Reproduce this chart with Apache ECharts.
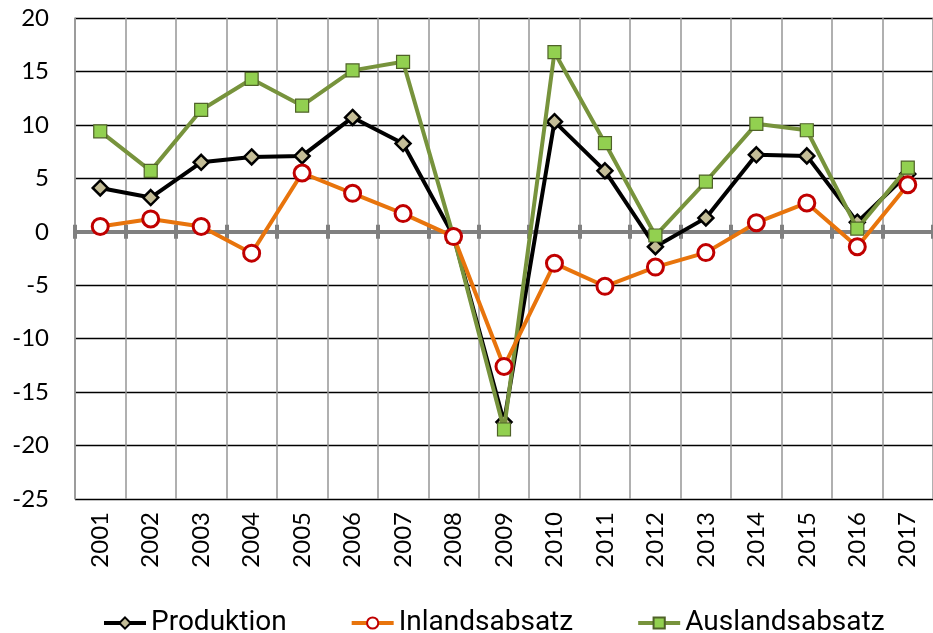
<!DOCTYPE html>
<html><head><meta charset="utf-8">
<script src="https://cdn.jsdelivr.net/npm/echarts@6/dist/echarts.min.js"></script>
<style>html,body{margin:0;padding:0;background:#fff}#c{width:933px;height:633px}</style>
</head><body><div id="c"></div>
<script>
var years = ['2001','2002','2003','2004','2005','2006','2007','2008','2009','2010','2011','2012','2013','2014','2015','2016','2017'];
var produktion = [4.1, 3.2, 6.5, 7.0, 7.1, 10.7, 8.25, -0.4, -17.8, 10.3, 5.7, -1.4, 1.3, 7.2, 7.1, 0.9, 5.4];
var inlandsabsatz = [0.5, 1.2, 0.5, -2.0, 5.5, 3.6, 1.7, -0.45, -12.6, -2.95, -5.1, -3.3, -1.95, 0.85, 2.7, -1.4, 4.4];
var auslandsabsatz = [9.4, 5.7, 11.4, 14.3, 11.8, 15.1, 15.9, -0.45, -18.5, 16.8, 8.3, -0.35, 4.7, 10.1, 9.5, 0.3, 6.0];
var yMin = -25, yMax = 20, yStep = 5;
var FONT = 'Lato';

var chart = echarts.init(document.getElementById('c'), null, {renderer: 'canvas'});
chart.setOption({
  animation: false,
  textStyle: {fontFamily: FONT},
  grid: {left: 75, right: -11, top: 18, bottom: 134, containLabel: false},
  legend: {
    left: 97, top: 604,
    itemWidth: 42, itemHeight: 14, itemGap: 63,
    lineStyle: {width: 4},
    textStyle: {fontSize: 28, color: '#000', fontFamily: 'Roboto'},
    data: ['Produktion', 'Inlandsabsatz', 'Auslandsabsatz']
  },
  xAxis: [
    {
      type: 'category', data: years, boundaryGap: true, position: 'bottom',
      axisLine: {show: false, onZero: false}, axisTick: {show: false},
      axisLabel: {rotate: 90, fontSize: 24, color: '#000', margin: 13, fontFamily: FONT},
      splitLine: {show: true, lineStyle: {color: '#969696', width: 1.5}}
    },
    {
      type: 'category', data: years, boundaryGap: true, position: 'bottom',
      axisLine: {show: true, onZero: true, onZeroAxisIndex: 0, lineStyle: {color: '#808080', width: 4}},
      axisTick: {show: true, length: 7, lineStyle: {color: '#808080', width: 4}},
      axisLabel: {show: false}, splitLine: {show: false}
    },
    {
      type: 'category', data: years, boundaryGap: true, position: 'bottom',
      axisLine: {show: false, onZero: true, onZeroAxisIndex: 1},
      axisTick: {show: true, inside: true, length: 7, lineStyle: {color: '#808080', width: 4}},
      axisLabel: {show: false}, splitLine: {show: false}
    }
  ],
  yAxis: [
    {
      type: 'value', min: yMin, max: yMax, interval: yStep,
      axisLine: {show: true, onZero: false, lineStyle: {color: '#969696', width: 1.5}},
      axisTick: {show: false},
      axisLabel: {fontSize: 24, color: '#000', margin: 26, fontFamily: FONT},
      splitLine: {show: true, lineStyle: {color: '#000', width: 1.3}}
    },
    {
      type: 'value', min: yMin, max: yMax, interval: yStep, position: 'left',
      axisLine: {show: false, onZero: false}, axisTick: {show: false},
      axisLabel: {show: false}, splitLine: {show: false}
    }
  ],
  series: [
    {
      name: 'Auslandsabsatz', type: 'line', data: auslandsabsatz, z: 3,
      symbol: 'rect', symbolSize: 13,
      lineStyle: {color: '#77933C', width: 4},
      itemStyle: {color: '#92D050', borderColor: '#4F6228', borderWidth: 1.2}
    },
    {
      name: 'Inlandsabsatz', type: 'line', data: inlandsabsatz, z: 4,
      symbol: 'circle', symbolSize: 16,
      lineStyle: {color: '#E8740C', width: 4},
      itemStyle: {color: '#FFFFFF', borderColor: '#C00000', borderWidth: 3}
    },
    {
      name: 'Produktion', type: 'line', data: produktion, z: 2,
      symbol: 'diamond', symbolSize: 15,
      lineStyle: {color: '#000000', width: 4},
      itemStyle: {color: '#C4BD97', borderColor: '#000000', borderWidth: 2.5}
    }
  ]
});
</script>
</body></html>
